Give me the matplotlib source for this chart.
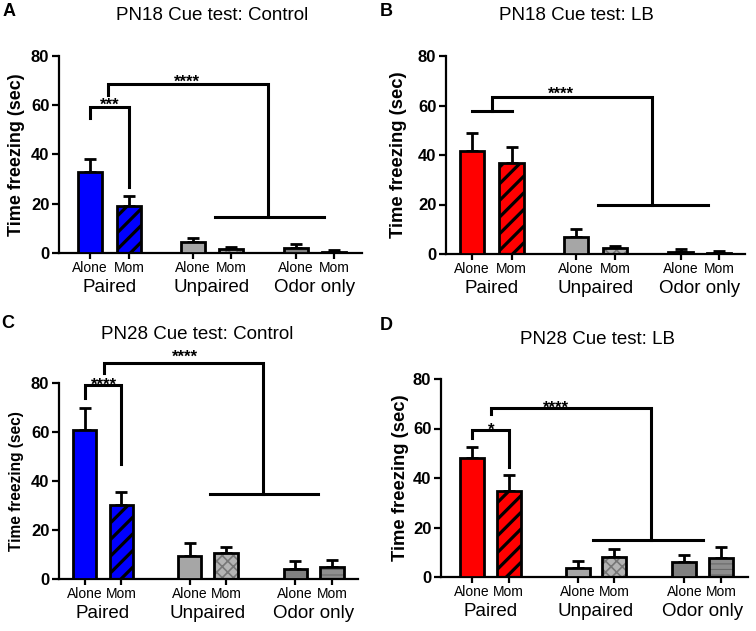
import numpy as np
import matplotlib.pyplot as plt

plt.rcParams['font.family'] = ['Liberation Sans', 'DejaVu Sans']

W, H = 756, 631

# data (sec): Paired Alone/Mom, Unpaired Alone/Mom, Odor only Alone/Mom
groups = ['Paired', 'Unpaired', 'Odor only']
conditions = ['Alone', 'Mom']

means_a = [32.9, 19.1, 4.5, 1.6, 2.2, 0.4]
sem_a = [5.3, 4.0, 1.6, 1.0, 1.4, 0.8]

means_b = [41.6, 36.8, 6.9, 2.4, 1.0, 0.4]
sem_b = [7.3, 6.4, 3.1, 1.0, 1.0, 0.8]

means_c = [61.0, 30.1, 9.2, 10.6, 4.1, 5.0]
sem_c = [9.0, 5.3, 5.4, 2.6, 3.2, 2.7]

means_d = [48.1, 34.7, 3.6, 8.2, 6.0, 7.8]
sem_d = [4.4, 6.5, 2.9, 3.0, 3.0, 4.5]

titles = ['PN18 Cue test: Control', 'PN18 Cue test: LB',
          'PN28 Cue test: Control', 'PN28 Cue test: LB']
letters = ['A', 'B', 'C', 'D']

# significance brackets: (left x, left foot, top, right x, right foot, label, label x, label y)
small_a = (0, 54.8, 59.3, 1, 26.8, '***', 0.52, 58.0)
small_c = (0, 74.0, 79.0, 1, 46.8, '****', 0.52, 77.1)
small_d = (0, 56.0, 59.4, 1, 44.5, '*', 0.52, 57.5)
# big bracket: (left x, left foot, top, right x, right foot, span start, span end, label x, label y)
big_a = (0.46, 64.2, 68.6, 4.54, 14.6, 3.18, 5.97, 2.47, 67.6)
big_b = (0.5, 57.8, 63.4, 4.54, 19.8, 3.18, 5.93, 2.25, 62.6)
big_c = (0.52, 83.9, 88.3, 4.85, 34.6, 3.41, 6.36, 2.73, 88.5)
big_d = (0.52, 65.8, 68.4, 4.83, 15.0, 3.27, 6.24, 2.28, 66.4)

pos_ab = [0, 1, 2.62, 3.6, 5.25, 6.22]
pos_cd = [0, 1, 2.86, 3.85, 5.74, 6.74]


def draw_panel(ax, means, sems, main_color, pos, width, xlim, label_size, label_pad):
    fills = [main_color, main_color, '#a6a6a6', '#b4b4b4', '#808080', '#8e8e8e']
    hatches = [None, '//', None, 'xxx', None, '---']
    hatch_cols = [None, 'black', None, '#777777', None, '#6a6a6a']
    hatch_lws = [0, 2.3, 0, 1.2, 0, 0.8]
    for i in range(len(means)):
        if hatches[i]:
            with plt.rc_context({'hatch.linewidth': hatch_lws[i]}):
                ax.bar(pos[i], means[i], width, color=fills[i], edgecolor=hatch_cols[i],
                       linewidth=0, hatch=hatches[i], zorder=2)
            ax.bar(pos[i], means[i], width, facecolor='none', edgecolor='black',
                   linewidth=2, zorder=3)
        else:
            ax.bar(pos[i], means[i], width, color=fills[i], edgecolor='black',
                   linewidth=2, zorder=3)
    ax.errorbar(pos, means, yerr=[np.zeros(len(means)), sems], fmt='none', ecolor='black',
                elinewidth=2, capsize=4, capthick=2, zorder=1)

    ax.set_xlim(xlim)
    ax.set_ylim(0, 80)
    ax.set_yticks([0, 20, 40, 60, 80])
    ax.spines['top'].set_visible(False)
    ax.spines['right'].set_visible(False)
    ax.spines['left'].set_linewidth(1.6)
    ax.spines['bottom'].set_linewidth(1.6)
    ax.tick_params(axis='y', width=1.6, length=5, labelsize=12, pad=2)
    ax.tick_params(axis='x', width=1.6, length=4, labelsize=10, pad=2)
    for lab in ax.get_yticklabels():
        lab.set_fontweight('bold')
    ax.set_xticks(pos, conditions * 3)
    for g in range(3):
        xm = (pos[2 * g] + pos[2 * g + 1]) / 2
        ax.annotate(groups[g], (xm, 0), xycoords=('data', 'axes fraction'),
                    xytext=(0, -24.5), textcoords='offset points',
                    ha='center', va='center', fontsize=13.5)
    ax.set_ylabel('Time freezing (sec)', fontsize=label_size, fontweight='bold',
                  labelpad=label_pad)


def draw_small(ax, br):
    x0, f0, top, x1, f1, txt, tx, ty = br
    ax.plot([x0, x0, x1, x1], [f0, top, top, f1], color='black', lw=2.2,
            solid_joinstyle='miter', clip_on=False, zorder=4)
    ax.text(tx, ty, txt, ha='center', va='baseline', fontsize=12, fontweight='bold')


def draw_big(ax, br):
    x0, f0, top, x1, f1, s0, s1, tx, ty = br
    ax.plot([x0, x0, x1, x1], [f0, top, top, f1], color='black', lw=2.2,
            solid_joinstyle='miter', clip_on=False, zorder=4)
    ax.plot([s0, s1], [f1, f1], color='black', lw=2.2, clip_on=False, zorder=4)
    ax.text(tx, ty, '****', ha='center', va='baseline', fontsize=12, fontweight='bold')


fig = plt.figure(figsize=(W / 100, H / 100), dpi=100)


def px_axes(left, top, right, bottom):
    return fig.add_axes([left / W, 1 - bottom / H, (right - left) / W, (bottom - top) / H])


ax_a = px_axes(59, 56, 362, 253)
ax_b = px_axes(446, 56, 745, 254)
ax_c = px_axes(59, 383, 358, 579)
ax_d = px_axes(441, 379, 748, 577)

draw_panel(ax_a, means_a, sem_a, '#0000ff', pos_ab, 0.61, (-0.78, 6.93), 13, 4)
draw_panel(ax_b, means_b, sem_b, '#ff0000', pos_ab, 0.61, (-0.65, 6.87), 13.3, 8)
draw_panel(ax_c, means_c, sem_c, '#0000ff', pos_cd, 0.64, (-0.7, 7.45), 11.2, 5)
draw_panel(ax_d, means_d, sem_d, '#ff0000', pos_cd, 0.65, (-0.83, 7.46), 13.3, 3)

draw_small(ax_a, small_a)
draw_big(ax_a, big_a)
# panel B: line across both Paired bars instead of a bracket
ax_b.plot([0, 1], [big_b[1], big_b[1]], color='black', lw=2.2, clip_on=False, zorder=4)
draw_big(ax_b, big_b)
draw_small(ax_c, small_c)
draw_big(ax_c, big_c)
draw_small(ax_d, small_d)
draw_big(ax_d, big_d)

title_xy = [(212, 15), (576, 15), (197, 334), (598, 339)]
letter_xy = [(9, 12), (386, 11), (8, 324), (386, 325)]
for t, (x, y) in zip(titles, title_xy):
    fig.text(x / W, 1 - y / H, t, ha='center', va='center', fontsize=13.5)
for l, (x, y) in zip(letters, letter_xy):
    fig.text(x / W, 1 - y / H, l, ha='center', va='center', fontsize=13, fontweight='bold')

fig.savefig('out.png', dpi=100)
